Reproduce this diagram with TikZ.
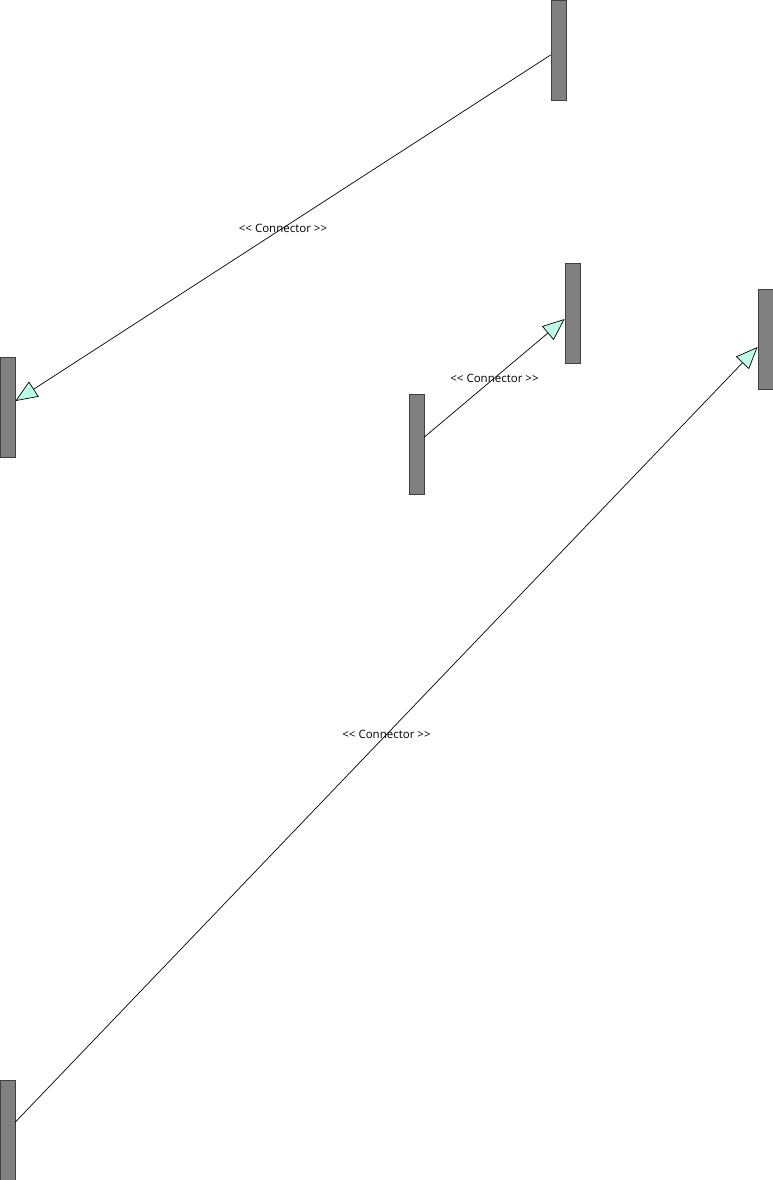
\documentclass[tikz,border=0pt]{standalone}
\usepackage{fontspec}
\setmainfont{Open Sans}
\usetikzlibrary{arrows.meta}
\definecolor{barfill}{RGB}{128,128,128}
\definecolor{barline}{RGB}{64,64,64}
\definecolor{tipfill}{RGB}{187,255,230}

\begin{document}
\begin{tikzpicture}[x=1pt,y=-1pt]
\tikzset{bar/.style={draw=barline,fill=barfill,line width=0.8pt,minimum width=15pt,minimum height=100pt,inner sep=0pt},
  conn/.style={draw=black,line width=0.7pt,-{Triangle[length=22pt,width=18pt,fill=tipfill]}},
  connlabel/.style={font=\fontsize{11.5}{13}\selectfont,inner sep=0pt}}
\useasboundingbox (0,0) rectangle (773,1180);

\node[bar] (barA) at (558.5,50) {};
\node[bar] (barB) at (7.5,407) {};
\node[bar] (barC) at (572.5,313) {};
\node[bar] (barD) at (416.5,444) {};
\node[bar] (barE) at (765.5,339) {};
\node[bar] (barF) at (7.5,1130) {};

\draw[conn] ([yshift=-5pt]barA.west) -- ([yshift=6pt]barB.east)
    node[connlabel,midway] {{<}{<} Connector {>}{>}};
\draw[conn] ([yshift=7pt]barD.east) -- ([yshift=-6pt]barC.west)
    node[connlabel,midway] {{<}{<} Connector {>}{>}};
\draw[conn] ([yshift=8pt]barF.east) -- ([yshift=-8pt]barE.west)
    node[connlabel,midway] {{<}{<} Connector {>}{>}};

\end{tikzpicture}
\end{document}
